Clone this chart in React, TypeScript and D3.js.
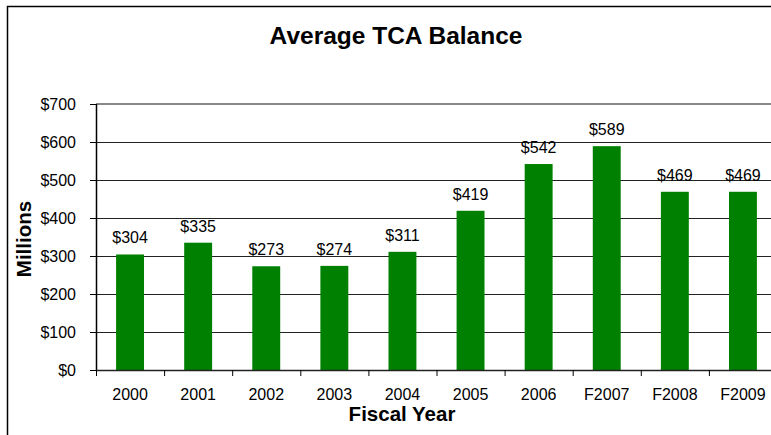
import React, { useEffect, useRef } from "react";
import * as d3 from "d3";

// Chart data
const years = ["2000", "2001", "2002", "2003", "2004", "2005", "2006", "F2007", "F2008", "F2009"];
const balances = [304, 335, 273, 274, 311, 419, 542, 589, 469, 469];
const yTicks = [0, 100, 200, 300, 400, 500, 600, 700];

const width = 771;
const height = 435;
const marginLeft = 96;
const plotRight = 777;
const plotTop = 104;
const plotBottom = 370;
const font = "'Liberation Sans', Arial, sans-serif";

const App: React.FC = () => {
  const svgRef = useRef<SVGSVGElement>(null);

  useEffect(() => {
    if (!svgRef.current) return;
    const svg = d3.select(svgRef.current);
    svg.selectAll("*").remove();

    // outer frame
    svg
      .append("rect")
      .attr("x", 7.5)
      .attr("y", 6.5)
      .attr("width", 778)
      .attr("height", 440)
      .attr("fill", "white")
      .attr("stroke", "black")
      .attr("stroke-width", 1.5);

    const x = d3
      .scaleBand()
      .domain(years)
      .range([marginLeft, plotRight])
      .paddingInner(0.59)
      .paddingOuter(0.295);

    const band = d3.scaleBand().domain(years).range([marginLeft, plotRight]);

    const y = d3.scaleLinear().domain([0, 700]).range([plotBottom, plotTop]);

    // grid lines
    svg
      .append("g")
      .selectAll("line")
      .data(yTicks.filter((d) => d > 0 && d < 700))
      .join("line")
      .attr("x1", marginLeft)
      .attr("x2", plotRight)
      .attr("y1", (d) => Math.round(y(d)) + 0.5)
      .attr("y2", (d) => Math.round(y(d)) + 0.5)
      .attr("stroke", "#222")
      .attr("stroke-width", 1);

    // plot area top border
    svg
      .append("line")
      .attr("x1", marginLeft)
      .attr("x2", plotRight)
      .attr("y1", y(700))
      .attr("y2", y(700))
      .attr("stroke", "#888")
      .attr("stroke-width", 2);

    // bars
    svg
      .append("g")
      .selectAll("rect")
      .data(balances)
      .join("rect")
      .attr("x", (d, i) => x(years[i]) || 0)
      .attr("y", (d) => y(d))
      .attr("width", x.bandwidth())
      .attr("height", (d) => plotBottom - y(d))
      .attr("fill", "#008000");

    // value labels
    svg
      .append("g")
      .selectAll("text")
      .data(balances)
      .join("text")
      .attr("x", (d, i) => (x(years[i]) || 0) + x.bandwidth() / 2)
      .attr("y", (d) => y(d) - 11)
      .attr("text-anchor", "middle")
      .attr("font-family", font)
      .attr("font-size", 16)
      .attr("fill", "black")
      .text((d) => `$${d}`);

    // y axis
    svg
      .append("g")
      .attr("transform", `translate(${marginLeft},0)`)
      .call(
        d3
          .axisLeft(y)
          .tickValues(yTicks)
          .tickSize(6)
          .tickPadding(14)
          .tickFormat((d) => `$${d}`)
      )
      .call((g) => g.select(".domain").attr("stroke", "black").attr("stroke-width", 1.5).attr("d", `M0.5,${plotTop}V${plotBottom}`))
      .call((g) => g.selectAll(".tick line").attr("stroke", "black"))
      .call((g) =>
        g.selectAll(".tick text").attr("font-family", font).attr("font-size", 16).attr("fill", "black")
      );

    // x axis
    const xAxis = svg.append("g").attr("transform", `translate(0,${plotBottom})`);
    xAxis
      .append("line")
      .attr("x1", marginLeft)
      .attr("x2", plotRight)
      .attr("y1", 0.5)
      .attr("y2", 0.5)
      .attr("stroke", "#222")
      .attr("stroke-width", 1.5);
    xAxis
      .selectAll("line.tk")
      .data(years)
      .join("line")
      .attr("class", "tk")
      .attr("x1", (d) => (band(d) || 0) + 0.5)
      .attr("x2", (d) => (band(d) || 0) + 0.5)
      .attr("y1", 0)
      .attr("y2", 6)
      .attr("stroke", "black");
    xAxis
      .selectAll("text")
      .data(years)
      .join("text")
      .attr("x", (d) => (band(d) || 0) + band.bandwidth() / 2)
      .attr("y", 30)
      .attr("text-anchor", "middle")
      .attr("font-family", font)
      .attr("font-size", 16)
      .attr("fill", "black")
      .text((d) => d);

    // title
    svg
      .append("text")
      .attr("x", 396)
      .attr("y", 44)
      .attr("text-anchor", "middle")
      .attr("font-family", font)
      .attr("font-weight", "bold")
      .attr("font-size", 24.5)
      .text("Average TCA Balance");

    // axis titles
    svg
      .append("text")
      .attr("x", 402)
      .attr("y", 421)
      .attr("text-anchor", "middle")
      .attr("font-family", font)
      .attr("font-weight", "bold")
      .attr("font-size", 20.5)
      .text("Fiscal Year");

    svg
      .append("text")
      .attr("transform", `translate(31,239) rotate(-90)`)
      .attr("text-anchor", "middle")
      .attr("font-family", font)
      .attr("font-weight", "bold")
      .attr("font-size", 20.5)
      .text("Millions");
  }, []);

  return (
    <svg
      ref={svgRef}
      width={width}
      height={height}
      style={{ position: "fixed", left: 0, top: 0, background: "white" }}
    />
  );
};

export default App;
